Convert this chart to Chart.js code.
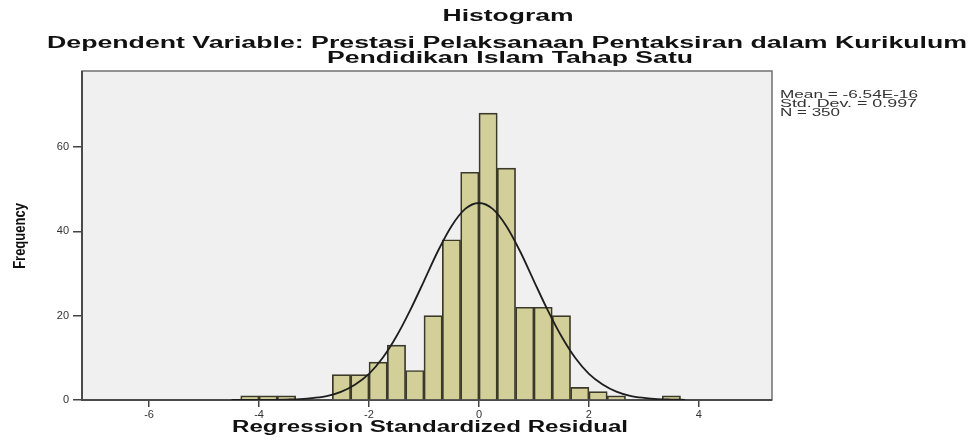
<!DOCTYPE html>
<html>
<head>
<meta charset="utf-8">
<script src="https://cdn.jsdelivr.net/npm/chart.js@4.4.0/dist/chart.umd.min.js"></script>
<style>
html, body { margin: 0; padding: 0; background: #fff; }
#wrap { width: 969px; height: 444px; position: relative; }
</style>
</head>
<body>
<div id="wrap"><canvas id="histChart"></canvas></div>
<script>
// histogram bins: left edge of each bin (bin width 1/3) and its frequency
var binStarts = [-4.333, -4.0, -3.667, -2.667, -2.333, -2.0, -1.667, -1.333, -1.0, -0.667, -0.333, 0.0, 0.333, 0.667, 1.0, 1.333, 1.667, 2.0, 2.333, 3.333];
var binCounts = [1, 1, 1, 6, 6, 9, 13, 7, 20, 38, 54, 68, 55, 22, 22, 20, 3, 2, 1, 1];
var binWidth = 0.3333;

// normal curve
var curveX = [-4.5, -4.25, -4, -3.75, -3.5, -3.25, -3, -2.75, -2.5, -2.25, -2, -1.75, -1.5, -1.25, -1, -0.75, -0.5, -0.25, 0,
              0.25, 0.5, 0.75, 1, 1.25, 1.5, 1.75, 2, 2.25, 2.5, 2.75, 3, 3.25, 3.5, 3.75];
var curveY = [0, 0, 0, 0.04, 0.1, 0.2, 0.5, 1.0, 2.0, 3.7, 6.2, 10.0, 15.1, 21.3, 28.2, 35.2, 41.2, 45.3, 46.7,
              45.3, 41.2, 35.2, 28.2, 21.3, 15.1, 10.0, 6.2, 3.7, 2.0, 1.0, 0.5, 0.2, 0.1, 0.04];

var xTicks = [-6, -4, -2, 0, 2, 4];
var yTicks = [0, 20, 40, 60];

var titleText = 'Histogram';
var subtitleLines = ['Dependent Variable: Prestasi Pelaksanaan Pentaksiran dalam Kurikulum', 'Pendidikan Islam Tahap Satu'];
var xTitle = 'Regression Standardized Residual';
var yTitle = 'Frequency';
var statLines = ['Mean = -6.54E-16', 'Std. Dev. = 0.997', 'N = 350'];

var FONT = '"Liberation Sans", Arial, sans-serif';

// draws text squeezed/stretched to a given width (the source image is stretched sideways)
function wideText(ctx, text, x, y, font, width, align) {
    ctx.save();
    ctx.font = font;
    ctx.textAlign = align || 'center';
    ctx.textBaseline = 'middle';
    var w = ctx.measureText(text).width;
    ctx.translate(x, y);
    ctx.scale(width / w, 1);
    ctx.fillText(text, 0, 0);
    ctx.restore();
}

var framePlugin = {
    id: 'spssFrame',
    beforeDraw: function (chart) {
        var a = chart.chartArea, ctx = chart.ctx;
        ctx.save();
        ctx.fillStyle = '#f0f0f0';
        ctx.fillRect(a.left, a.top, a.right - a.left, a.bottom - a.top);
        ctx.restore();
    },
    beforeDatasetsDraw: function (chart) {
        var a = chart.chartArea, ctx = chart.ctx;
        ctx.save();
        ctx.strokeStyle = '#707070';
        ctx.lineWidth = 1.5;
        ctx.strokeRect(a.left, a.top, a.right - a.left, a.bottom - a.top);
        ctx.strokeStyle = '#4a4a4a';
        ctx.lineWidth = 2;
        ctx.beginPath();
        ctx.moveTo(a.left, a.top);
        ctx.lineTo(a.left, a.bottom);
        ctx.lineTo(a.right, a.bottom);
        ctx.stroke();
        ctx.restore();
    },
    afterDraw: function (chart) {
        var ctx = chart.ctx;
        ctx.save();
        ctx.fillStyle = '#111';
        wideText(ctx, titleText, 508, 17, 'bold 16px ' + FONT, 131);
        wideText(ctx, subtitleLines[0], 507, 44, 'bold 16px ' + FONT, 920);
        wideText(ctx, subtitleLines[1], 510, 59, 'bold 16px ' + FONT, 366);
        wideText(ctx, xTitle, 430, 428, 'bold 16px ' + FONT, 396);
        ctx.fillStyle = '#333';
        wideText(ctx, statLines[0], 780, 95, '10px ' + FONT, 138, 'left');
        wideText(ctx, statLines[1], 780, 104, '10px ' + FONT, 137, 'left');
        wideText(ctx, statLines[2], 780, 113, '10px ' + FONT, 60, 'left');
        // rotated y title
        ctx.fillStyle = '#111';
        ctx.translate(20, 236);
        ctx.rotate(-Math.PI / 2);
        ctx.scale(1, 1.3);
        ctx.font = 'bold 13px ' + FONT;
        ctx.textAlign = 'center';
        ctx.textBaseline = 'middle';
        ctx.fillText(yTitle, 0, 0);
        ctx.restore();
    }
};

var barData = binStarts.map(function (s, i) { return { x: s + binWidth / 2, y: binCounts[i] }; });
var lineData = curveX.map(function (x, i) { return { x: x, y: curveY[i] }; });

var ctx = document.getElementById('histChart').getContext('2d');
var histChart = new Chart(ctx, {
    type: 'bar',
    data: {
        datasets: [{
            type: 'line',
            data: lineData,
            borderColor: '#1e1e1e',
            borderWidth: 1.8,
            pointRadius: 0,
            fill: false,
            cubicInterpolationMode: 'monotone',
            order: 0
        }, {
            type: 'bar',
            data: barData,
            backgroundColor: '#d3cf98',
            borderColor: '#3b3a2a',
            borderWidth: 1.7,
            barPercentage: 1,
            categoryPercentage: 1,
            order: 1
        }]
    },
    options: {
        responsive: true,
        maintainAspectRatio: false,
        animation: false,
        layout: { padding: { top: 71, right: 197, left: 0, bottom: 0 } },
        plugins: {
            legend: { display: false },
            tooltip: { enabled: false },
            title: { display: false }
        },
        scales: {
            x: {
                type: 'linear',
                min: -7.22,
                max: 5.33,
                offset: false,
                afterBuildTicks: function (scale) { scale.ticks = xTicks.map(function (v) { return { value: v }; }); },
                afterFit: function (scale) { scale.height = 44; },
                grid: { display: true, offset: false, drawOnChartArea: false, drawTicks: true, tickLength: 7, color: '#444', lineWidth: 1.5 },
                border: { display: false },
                ticks: { font: { family: FONT, size: 11 }, color: '#333', padding: 1, maxRotation: 0 }
            },
            y: {
                min: 0,
                max: 78,
                afterBuildTicks: function (scale) { scale.ticks = yTicks.map(function (v) { return { value: v }; }); },
                afterFit: function (scale) { scale.width = 82; },
                grid: { display: true, drawOnChartArea: false, drawTicks: true, tickLength: 9, color: '#444', lineWidth: 1.5 },
                border: { display: false },
                ticks: { font: { family: FONT, size: 11 }, color: '#333', padding: 4 }
            }
        }
    },
    plugins: [framePlugin]
});
</script>
</body>
</html>
